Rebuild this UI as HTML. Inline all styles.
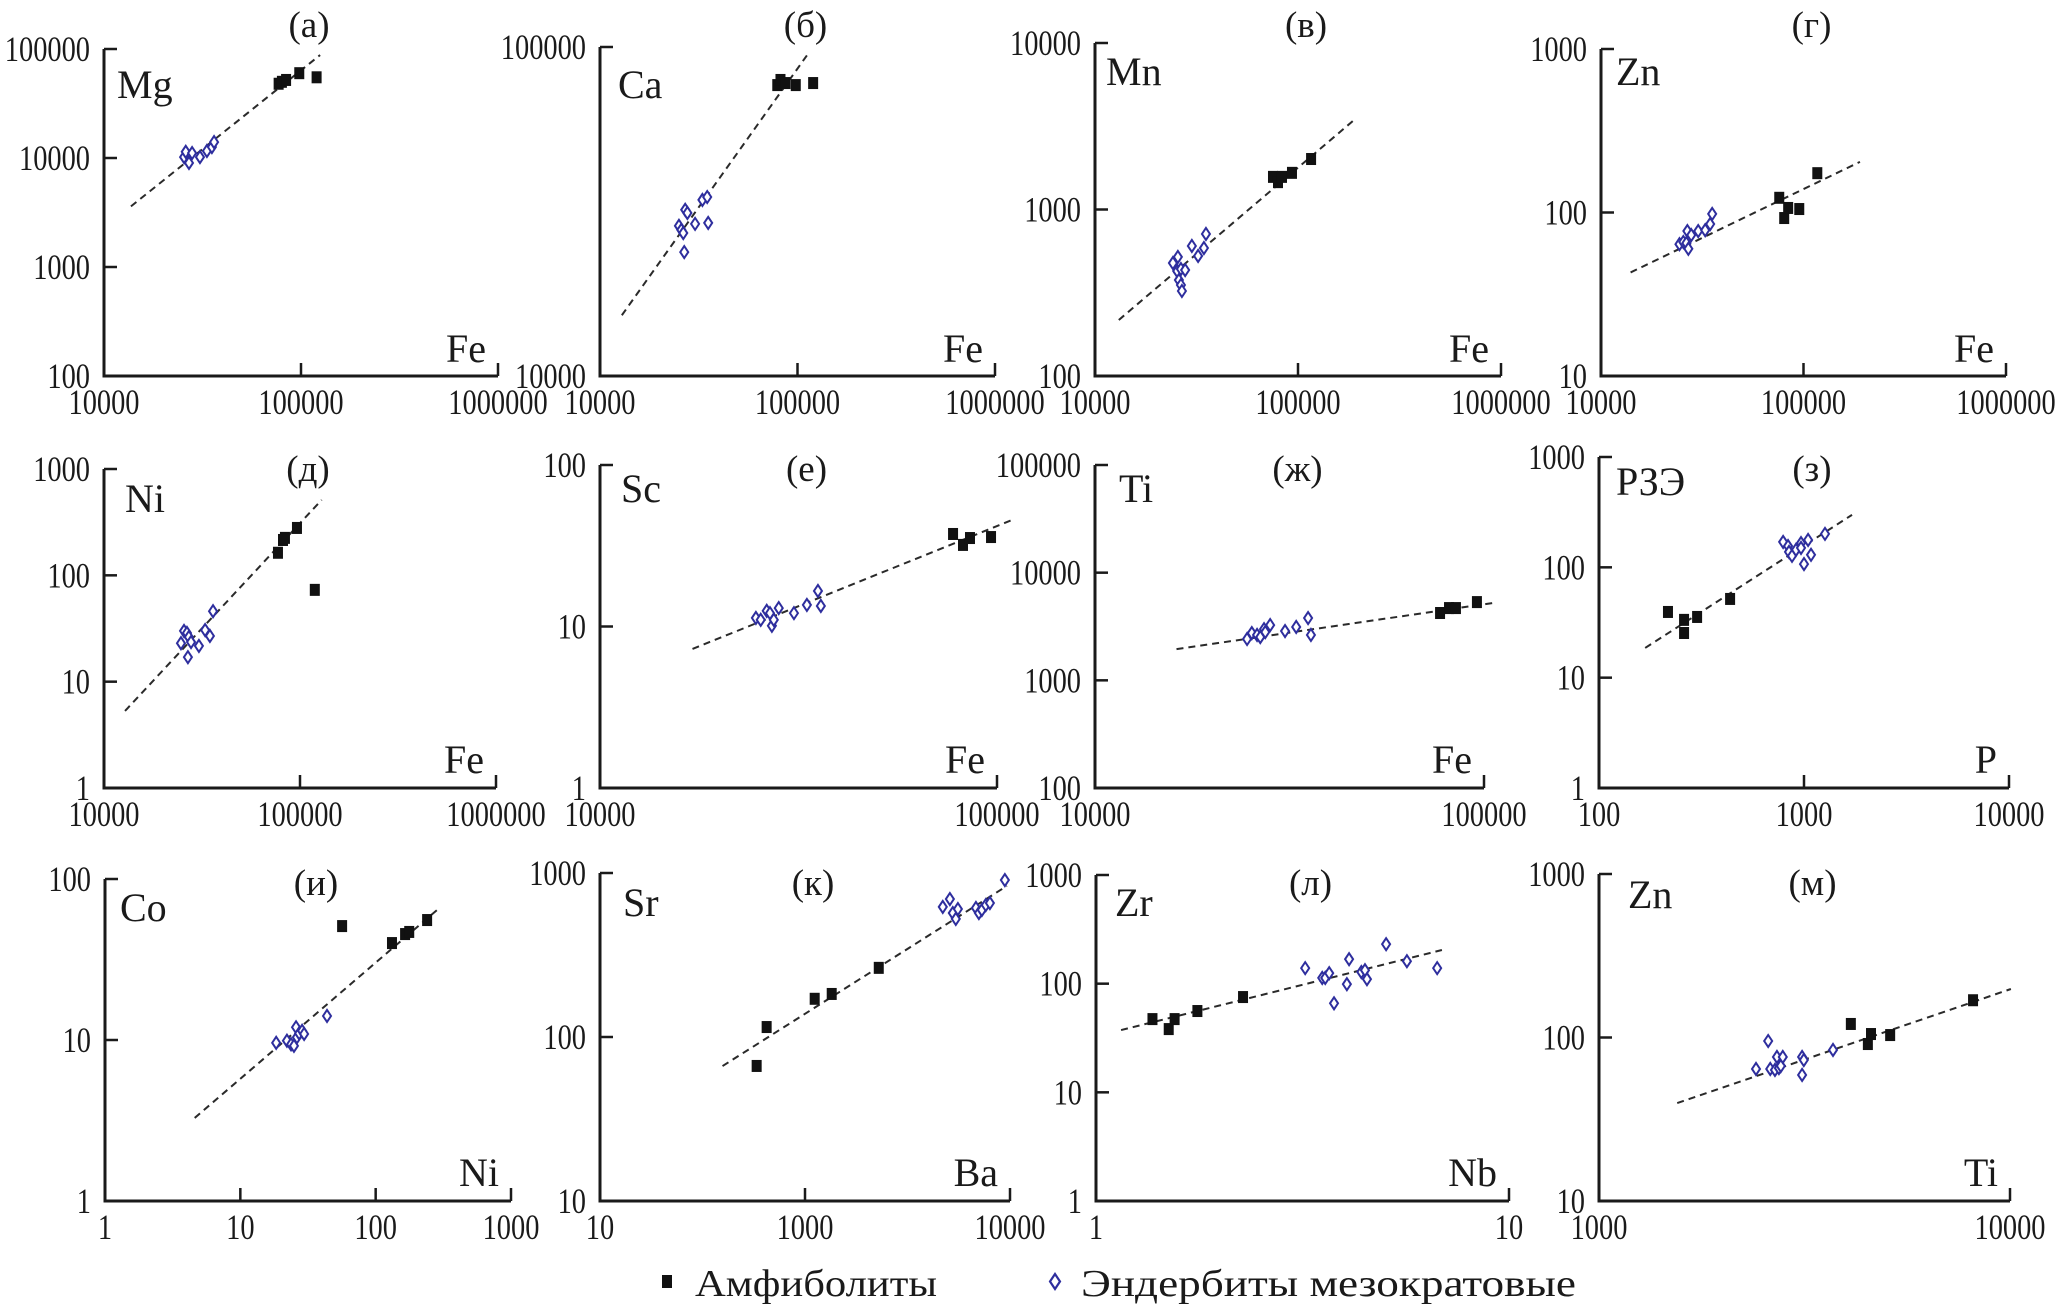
<!DOCTYPE html>
<html><head><meta charset="utf-8">
<style>
html,body{margin:0;padding:0;background:#fff;}
svg{display:block;}
text{font-family:"Liberation Serif","DejaVu Serif",serif;fill:#1a1a1a;}
</style></head>
<body>
<svg id="chart" width="2057" height="1305" viewBox="0 0 2057 1305" xmlns="http://www.w3.org/2000/svg">
<rect x="0" y="0" width="2057" height="1305" fill="#fff"/>
<g id="legend">
  <rect x="662" y="1275" width="10" height="13" fill="#111"/>
  <text x="695" y="1296" font-size="38" textLength="242" lengthAdjust="spacingAndGlyphs">Амфиболиты</text>
  <path d="M1055,1274 L1060,1281.5 L1055,1289 L1050,1281.5 Z" fill="none" stroke="#2e2e9e" stroke-width="2.2"/>
  <text x="1081" y="1296" font-size="38" textLength="495" lengthAdjust="spacingAndGlyphs">Эндербиты мезократовые</text>
</g>
</svg>
<script>
// ---- data ----
const mgAmphX=[77000,80000,84000,98000,120000];
const mgAmphY=[48000,50000,52000,60000,55000];
const mgEndX=[25500,26000,27000,28000,30700,33300,35300,36200];
const mgEndY=[10200,11400,9000,11100,10200,11600,12600,14000];
const mgLineX=[13700,125000];const mgLineY=[3600,88000];

const caAmphX=[79000,82000,87000,98000,120000];
const caAmphY=[76600,79400,77700,76600,77700];
const caEndX=[25100,25800,26400,27000,27700,26700,30300,33000,34900,35300];
const caEndY=[28600,27800,27200,32000,31300,23800,29000,34300,35000,29200];
const caLineX=[12900,114000];const caLineY=[15300,96000];

const mnAmphX=[75300,79700,83400,93400,116000];
const mnAmphY=[1570,1460,1570,1660,2010];
const mnEndX=[24200,25600,25400,26500,27800,25900,26500,26800,30000,32200,34400,35200];
const mnEndY=[477,519,427,439,433,377,352,324,604,526,587,713];
const mnLineX=[13100,189000];const mnLineY=[217,3450];

const znAmphX=[75900,80300,84000,95300,117000];
const znAmphY=[123,92.5,106.6,105,174];
const znEndX=[24400,25500,26400,27000,26700,27900,30200,32700,34600,35400];
const znEndY=[64,66,65,60,77,72.8,77,78,85,98];
const znLineX=[14000,190000];const znLineY=[43,204];

const niAmphX=[77200,81900,83800,96500,119000];
const niAmphY=[163,215,225,279,73];
const niEndX=[24700,25600,26500,27100,26800,27800,30500,32800,34700,36000];
const niEndY=[23,30,28.7,26.3,17,23.6,21.7,30.6,26.9,46];
const niLineX=[12800,129000];const niLineY=[5.3,512];

const scAmphX=[77500,82100,85500,96600];
const scAmphY=[37.4,32,35.3,35.8];
const scEndX=[24700,25400,26300,26800,27100,27400,28200,30800,33200,35400,36000];
const scEndY=[11.3,11,12.5,12.1,10.1,11,13,12.1,13.6,16.6,13.4];
const scLineX=[17100,109000];const scLineY=[7.26,45.6];

const tiAmphX=[77100,81300,84700,95900];
const tiAmphY=[4220,4690,4690,5330];
const tiEndX=[24600,25300,26100,26600,27200,27400,28200,30800,32900,35300,35900];
const tiEndY=[2420,2750,2640,2520,2990,2810,3260,2870,3130,3790,2640];
const tiLineX=[16200,105000];const tiLineY=[1950,5220];

const reeAmphX=[217,260,260,301,436];
const reeAmphY=[39.4,33.4,25.4,35.5,51.7];
const reeEndX=[791,836,845,874,914,967,967,1000,1047,1082,1266];
const reeEndY=[170,156,138,127,144,166,150,107,177,130,201];
const reeLineX=[168,1715];const reeLineY=[18.6,299];

const coAmphX=[56.5,132,165,177,240];
const coAmphY=[51,40,45.5,46.9,55.6];
const coEndX=[18.4,22.1,23.7,24.9,25.8,26.2,27.2,28.6,29.6,43.7];
const coEndY=[9.6,9.9,9.4,9.2,12,10.4,11,11.4,10.9,14.1];
const coLineX=[4.6,289];const coLineY=[3.28,65];

const srAmphX=[581,650,1115,1350,2290];
const srAmphY=[66.6,115,171,183,264];
const srEndX=[4700,5090,5260,5440,5570,6820,7050,7290,7620,7980,9440];
const srEndY=[621,694,570,525,603,612,570,595,638,656,906];
const srLineX=[396,9660];const srLineY=[66.5,834];

const zrAmphX=[1.37,1.5,1.55,1.76,2.27];
const zrAmphY=[47.2,38.2,47.2,56,75.3];
const zrEndX=[3.21,3.53,3.59,3.67,3.77,4.05,4.1,4.39,4.48,4.53,5.04,5.66,6.7];
const zrEndY=[139,113,113,125,66,99,168,128,133,110,231,161,139];
const zrLineX=[1.15,6.88];const zrLineY=[37.4,204];

const zntAmphX=[4100,4510,4590,5110,8130];
const zntAmphY=[121,91.2,105,103.5,169];
const zntEndX=[2410,2580,2610,2680,2710,2740,2770,2800,3120,3120,3150,3710];
const zntEndY=[64.2,95.2,64.2,63.3,76,65,67,76,76,59,72.8,83.9];
const zntLineX=[1550,10050];const zntLineY=[39.7,198];

// tick values / labels
const feTicks3=[10000,100000,1000000];const feLabels3=["10000","100000","1000000"];
const feTicks2=[10000,100000];const feLabels2=["10000","100000"];
const mgYTicks=[100,1000,10000,100000];const mgYLabels=["100","1000","10000","100000"];
const caYTicks=[10000,100000];const caYLabels=["10000","100000"];
const mnYTicks=[100,1000,10000];const mnYLabels=["100","1000","10000"];
const znYTicks=[10,100,1000];const znYLabels=["10","100","1000"];
const niYTicks=[1,10,100,1000];const niYLabels=["1","10","100","1000"];
const scYTicks=[1,10,100];const scYLabels=["1","10","100"];
const tiYTicks=[100,1000,10000,100000];const tiYLabels=["100","1000","10000","100000"];
const reeXTicks=[100,1000,10000];const reeXLabels=["100","1000","10000"];
const reeYTicks=[1,10,100,1000];const reeYLabels=["1","10","100","1000"];
const coXTicks=[1,10,100,1000];const coXLabels=["1","10","100","1000"];
const coYTicks=[1,10,100];const coYLabels=["1","10","100"];
const srXTicks=[100,1000,10000];const srXLabels=["10","1000","10000"];
const srYTicks=[10,100,1000];const srYLabels=["10","100","1000"];
const zrXTicks=[1,10];const zrXLabels=["1","10"];
const zrYTicks=[1,10,100,1000];const zrYLabels=["1","10","100","1000"];
const zntXTicks=[1000,10000];const zntXLabels=["1000","10000"];
const zntYTicks=[10,100,1000];const zntYLabels=["10","100","1000"];

// ---- layout ----
const panels=[
 {id:"a",t:"(а)",yl:"Mg",xl:"Fe",L:104,R:498,T:49,B:376,ax:mgAmphX,ay:mgAmphY,ex:mgEndX,ey:mgEndY,lx:mgLineX,ly:mgLineY,xt:feTicks3,xtl:feLabels3,yt:mgYTicks,ytl:mgYLabels,ylx:117,yly:98,xly:362,ty:25},
 {id:"b",t:"(б)",yl:"Ca",xl:"Fe",L:600,R:995,T:47,B:376,ax:caAmphX,ay:caAmphY,ex:caEndX,ey:caEndY,lx:caLineX,ly:caLineY,xt:feTicks3,xtl:feLabels3,yt:caYTicks,ytl:caYLabels,ylx:618,yly:98,xly:362,ty:25},
 {id:"v",t:"(в)",yl:"Mn",xl:"Fe",L:1095,R:1501,T:43,B:376,ax:mnAmphX,ay:mnAmphY,ex:mnEndX,ey:mnEndY,lx:mnLineX,ly:mnLineY,xt:feTicks3,xtl:feLabels3,yt:mnYTicks,ytl:mnYLabels,ylx:1106,yly:85,xly:362,ty:25},
 {id:"g",t:"(г)",yl:"Zn",xl:"Fe",L:1601,R:2006,T:49,B:376,ax:znAmphX,ay:znAmphY,ex:znEndX,ey:znEndY,lx:znLineX,ly:znLineY,xt:feTicks3,xtl:feLabels3,yt:znYTicks,ytl:znYLabels,ylx:1616,yly:85,xly:362,ty:25},
 {id:"d",t:"(д)",yl:"Ni",xl:"Fe",L:104,R:496,T:469,B:788,ax:niAmphX,ay:niAmphY,ex:niEndX,ey:niEndY,lx:niLineX,ly:niLineY,xt:feTicks3,xtl:feLabels3,yt:niYTicks,ytl:niYLabels,ylx:125,yly:512,xly:773,ty:469},
 {id:"e",t:"(е)",yl:"Sc",xl:"Fe",L:600,R:997,T:465,B:788,ax:scAmphX,ay:scAmphY,ex:scEndX,ey:scEndY,lx:scLineX,ly:scLineY,xt:feTicks2,xtl:feLabels2,yt:scYTicks,ytl:scYLabels,ylx:621,yly:502,xly:773,ty:469},
 {id:"zh",t:"(ж)",yl:"Ti",xl:"Fe",L:1095,R:1484,T:465,B:788,ax:tiAmphX,ay:tiAmphY,ex:tiEndX,ey:tiEndY,lx:tiLineX,ly:tiLineY,xt:feTicks2,xtl:feLabels2,yt:tiYTicks,ytl:tiYLabels,ylx:1119,yly:502,xly:773,ty:469},
 {id:"z",t:"(з)",yl:"РЗЭ",xl:"P",L:1599,R:2009,T:457,B:788,ax:reeAmphX,ay:reeAmphY,ex:reeEndX,ey:reeEndY,lx:reeLineX,ly:reeLineY,xt:reeXTicks,xtl:reeXLabels,yt:reeYTicks,ytl:reeYLabels,ylx:1616,yly:495,xly:773,ty:469},
 {id:"i",t:"(и)",yl:"Co",xl:"Ni",L:105,R:511,T:879,B:1201,ax:coAmphX,ay:coAmphY,ex:coEndX,ey:coEndY,lx:coLineX,ly:coLineY,xt:coXTicks,xtl:coXLabels,yt:coYTicks,ytl:coYLabels,ylx:120,yly:921,xly:1186,ty:883},
 {id:"k",t:"(к)",yl:"Sr",xl:"Ba",L:600,R:1010,T:873,B:1201,ax:srAmphX,ay:srAmphY,ex:srEndX,ey:srEndY,lx:srLineX,ly:srLineY,xt:srXTicks,xtl:srXLabels,yt:srYTicks,ytl:srYLabels,ylx:623,yly:916,xly:1186,ty:883},
 {id:"l",t:"(л)",yl:"Zr",xl:"Nb",L:1096,R:1509,T:875,B:1201,ax:zrAmphX,ay:zrAmphY,ex:zrEndX,ey:zrEndY,lx:zrLineX,ly:zrLineY,xt:zrXTicks,xtl:zrXLabels,yt:zrYTicks,ytl:zrYLabels,ylx:1115,yly:916,xly:1186,ty:883},
 {id:"m",t:"(м)",yl:"Zn",xl:"Ti",L:1599,R:2010,T:874,B:1201,ax:zntAmphX,ay:zntAmphY,ex:zntEndX,ey:zntEndY,lx:zntLineX,ly:zntLineY,xt:zntXTicks,xtl:zntXLabels,yt:zntYTicks,ytl:zntYLabels,ylx:1628,yly:908,xly:1186,ty:883}
];
const NS="http://www.w3.org/2000/svg";
const svg=document.getElementById("chart");
function mk(tag,attrs,parent){const e=document.createElementNS(NS,tag);for(const k in attrs)e.setAttribute(k,attrs[k]);parent.appendChild(e);return e;}
const INK="#1a1a1a",BLUE="#2e2e9e";
panels.forEach(p=>{
  const g=mk("g",{},svg);
  
  
  const x0=Math.log10(p.xt[0]),x1=Math.log10(p.xt[p.xt.length-1]);
  const y0=Math.log10(p.yt[0]),y1=Math.log10(p.yt[p.yt.length-1]);
  const sx=v=>p.L+(Math.log10(v)-x0)/(x1-x0)*(p.R-p.L);
  const sy=v=>p.B-(Math.log10(v)-y0)/(y1-y0)*(p.B-p.T);
  // axes
  const ax=mk("path",{d:`M${p.L},${p.T} L${p.L},${p.B} L${p.R},${p.B}`,fill:"none",stroke:INK,"stroke-width":3},g);
  
  
  // x ticks
  p.xt.forEach((v,i)=>{
    const x=sx(v);
    if(i>0){const t=mk("line",{x1:x,y1:p.B,x2:x,y2:p.B-13,stroke:INK,"stroke-width":2.5},g);
      
      }
    const s=p.xtl[i];
    const tx=mk("text",{x:x,y:p.B+38,"font-size":36,"text-anchor":"middle",textLength:s.length*14.2,lengthAdjust:"spacingAndGlyphs"},g);
    tx.textContent=s;
    
    
  });
  p.yt.forEach((v,i)=>{
    const y=sy(v);
    if(i>0){const t=mk("line",{x1:p.L,y1:y,x2:p.L+13,y2:y,stroke:INK,"stroke-width":2.5},g);
      
      }
    const s=p.ytl[i];
    const tx=mk("text",{x:p.L-14,y:y+12,"font-size":36,"text-anchor":"end",textLength:s.length*14.2,lengthAdjust:"spacingAndGlyphs"},g);
    tx.textContent=s;
    
    
  });
  // titles / element labels
  const tt=mk("text",{x:(p.L+p.R)/2+8,y:p.ty+12,"font-size":37,"text-anchor":"middle"},g);
  tt.textContent=p.t;
  
  
  const yl=mk("text",{x:p.ylx,y:p.yly,"font-size":40},g);
  yl.textContent=p.yl;
  
  
  const xl=mk("text",{x:p.R-12,y:p.xly,"font-size":40,"text-anchor":"end"},g);
  xl.textContent=p.xl;
  
  
  // trend line
  const ln=mk("line",{x1:sx(p.lx[0]),y1:sy(p.ly[0]),x2:sx(p.lx[1]),y2:sy(p.ly[1]),stroke:"#2a2a2a","stroke-width":2,"stroke-dasharray":"7 5"},g);
  
  
  // enderbites
  p.ex.forEach((v,i)=>{
    const x=sx(v),y=sy(p.ey[i]);
    const d=mk("path",{d:`M${x},${y-6} L${x+4},${y} L${x},${y+6} L${x-4},${y} Z`,fill:"#fff",stroke:BLUE,"stroke-width":2},g);
    
    
  });
  // amphibolites
  p.ax.forEach((v,i)=>{
    const x=sx(v),y=sy(p.ay[i]);
    const r=mk("rect",{x:x-5,y:y-6,width:10,height:12,fill:"#111"},g);
    
    
  });
});
</script>
</body></html>
